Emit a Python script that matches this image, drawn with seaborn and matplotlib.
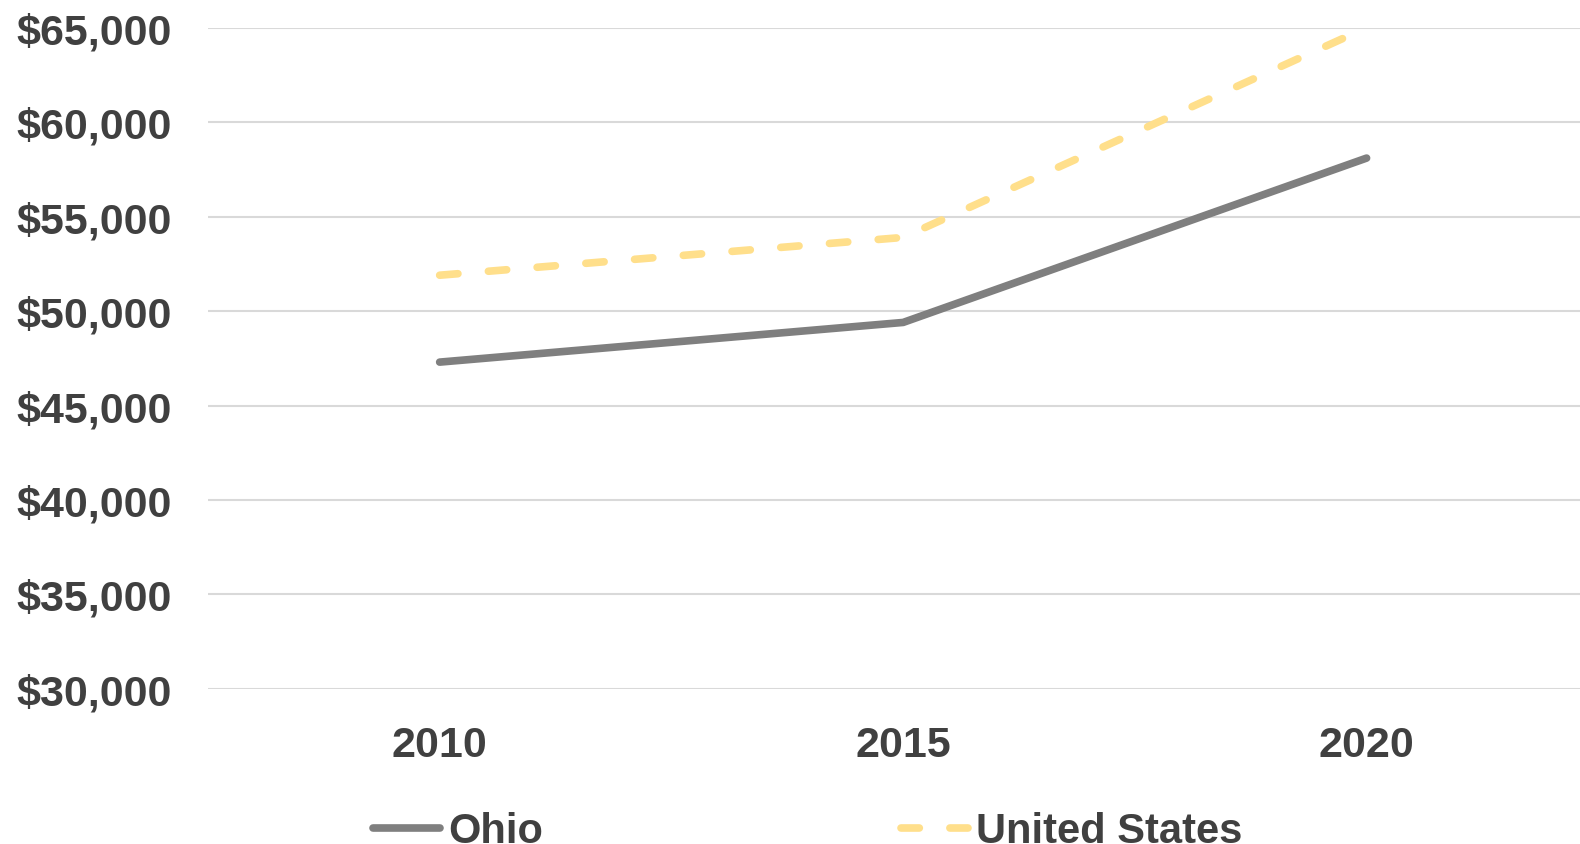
import pandas as pd
import matplotlib.pyplot as plt
import seaborn as sns
from matplotlib.ticker import FuncFormatter

# Median household income
years = [2010, 2015, 2020]
ohio = [47300, 49400, 58100]
united_states = [51900, 53900, 65000]
y_ticks = [30000, 35000, 40000, 45000, 50000, 55000, 60000, 65000]

df = pd.DataFrame({
    "year": years * 2,
    "income": ohio + united_states,
    "area": ["Ohio"] * 3 + ["United States"] * 3,
})

sns.set_style("white")
plt.rcParams["font.family"] = ["Liberation Sans", "DejaVu Sans"]
plt.rcParams["font.weight"] = "bold"

fig = plt.figure(figsize=(15.8, 8.45), dpi=100)
ax = fig.add_axes([0.1316, 0.1835, 0.880, 0.7825])

text_color = "#404040"
palette = {"Ohio": "#7f7f7f", "United States": "#FFDF8B"}

for name, grp in df.groupby("area"):
    sns.lineplot(data=grp, x="year", y="income", ax=ax, color=palette[name],
                 linewidth=5.5, label=name, legend=False,
                 solid_capstyle="round", dash_capstyle="round")

# dashed US line, offset so a dash starts at 2010
us_line = ax.get_lines()[1]
us_line.set_dashes((2.4, 4.0))

ax.set_xlim(2007.5, 2022.5)
ax.set_ylim(30000, 65000)
ax.set_xticks(years)
ax.set_yticks(y_ticks)
ax.yaxis.set_major_formatter(FuncFormatter(lambda v, p: f"${v:,.0f}"))
ax.grid(axis="y", color="#d9d9d9", linewidth=1.5)
ax.set_axisbelow(True)
for s in ax.spines.values():
    s.set_visible(False)
ax.tick_params(axis="y", length=0, pad=26, labelsize=31, labelcolor=text_color)
ax.tick_params(axis="x", length=0, pad=26, labelsize=31, labelcolor=text_color)
for lbl in ax.get_xticklabels() + ax.get_yticklabels():
    lbl.set_fontweight("bold")
ax.set_xlabel("")
ax.set_ylabel("")

handles = ax.get_lines()
fig.legend(handles, ["Ohio", "United States"], loc="center left",
           bbox_to_anchor=(0.236, 0.015), ncol=2, frameon=False,
           fontsize=30, labelcolor=text_color, handlelength=1.6,
           handletextpad=0.2, columnspacing=8.6, borderpad=0, borderaxespad=0)

fig.savefig("out.png", dpi=100)
